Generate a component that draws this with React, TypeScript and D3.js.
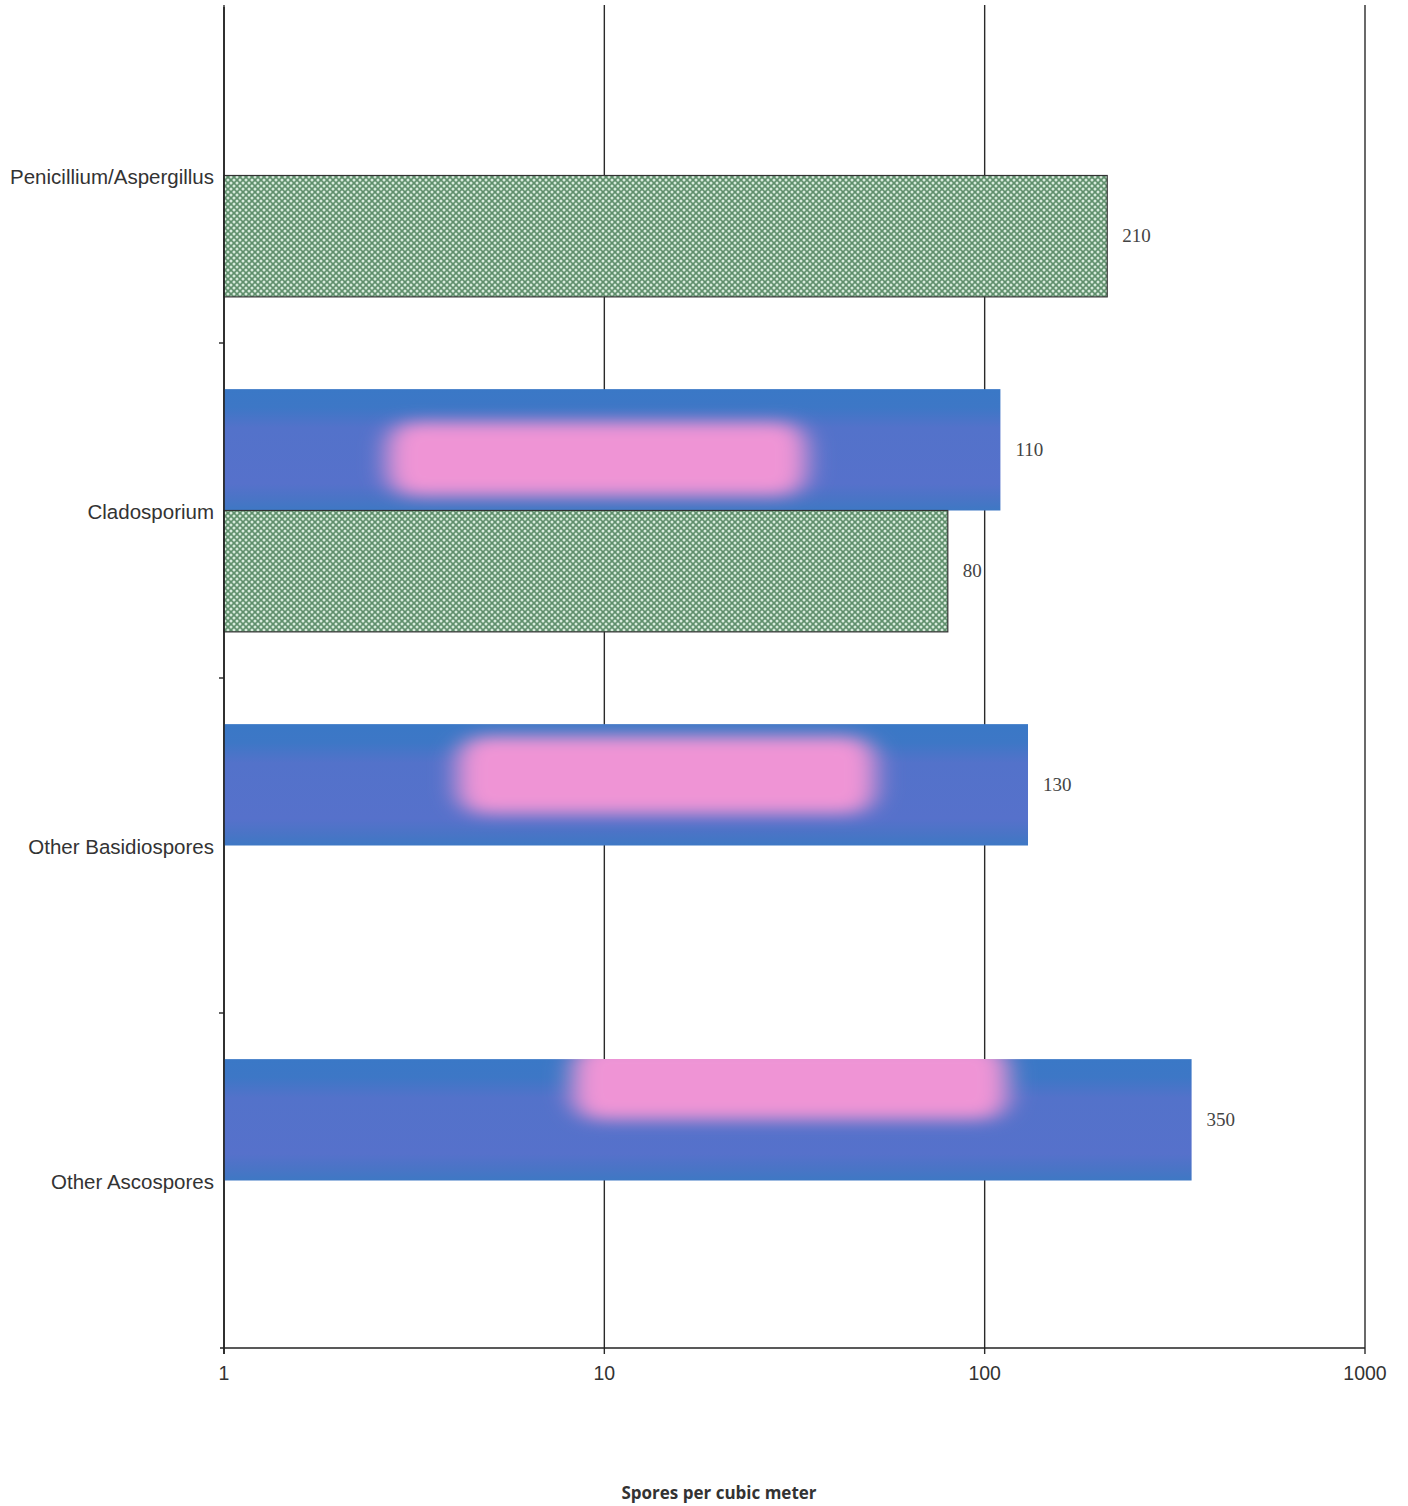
import React from 'react';
import * as d3 from 'd3';

const categories = ['Penicillium/Aspergillus', 'Cladosporium', 'Other Basidiospores', 'Other Ascospores'];
// two series, no legend in the source: blue bars sit above, green below
const seriesKeys = ['blue', 'green'];
const blueValues: (number | null)[] = [null, 110, 130, 350];
const greenValues: (number | null)[] = [210, 80, null, null];
const xTicks = [1, 10, 100, 1000];
const axisTitle = 'Spores per cubic meter';

// where the pink glow sits inside each blue bar, as fractions of the bar box
const glow = [
  null,
  { x0: 0.21, x1: 0.75, y0: 0.27, y1: 0.88 },
  { x0: 0.29, x1: 0.81, y0: 0.1, y1: 0.74 },
  { x0: 0.36, x1: 0.81, y0: -0.12, y1: 0.5 },
];

const W = 1408;
const H = 1506;
const left = 224;
const right = 1365;
const top = 8;
const bottom = 1348;

const App: React.FC = () => {
  const x = d3.scaleLog().domain([1, 1000]).range([left, right]);
  const y = d3.scaleBand<string>().domain(categories).range([top, bottom]);
  const sub = d3.scaleBand<string>()
    .domain(seriesKeys)
    .range([0, y.bandwidth()])
    .paddingInner(0)
    .paddingOuter(0.38);

  const bars: { key: string; i: number; v: number }[] = [];
  categories.forEach((c, i) => {
    if (blueValues[i] != null) bars.push({ key: 'blue', i, v: blueValues[i] as number });
    if (greenValues[i] != null) bars.push({ key: 'green', i, v: greenValues[i] as number });
  });

  const boundaries = d3.range(1, categories.length).map(i => y(categories[i]) as number);

  return (
    <div style={{ position: 'absolute', left: 0, top: 0 }}>
      <svg width={W} height={H} style={{ display: 'block', background: '#fff' }}>
        <defs>
          <pattern id="dots" width="6" height="6" patternUnits="userSpaceOnUse">
            <rect width="6" height="6" fill="#5f8f6c" />
            <circle cx="0" cy="0" r="1.5" fill="#d6eadb" />
            <circle cx="6" cy="0" r="1.5" fill="#d6eadb" />
            <circle cx="0" cy="6" r="1.5" fill="#d6eadb" />
            <circle cx="6" cy="6" r="1.5" fill="#d6eadb" />
            <circle cx="3" cy="3" r="1.5" fill="#d6eadb" />
          </pattern>
          <linearGradient id="blueFill" x1="0" y1="0" x2="0" y2="1">
            <stop offset="0" stopColor="#3a78c6" />
            <stop offset="0.15" stopColor="#3d77c6" />
            <stop offset="0.32" stopColor="#5372ca" />
            <stop offset="0.78" stopColor="#5671cb" />
            <stop offset="0.9" stopColor="#4a74c6" />
            <stop offset="1" stopColor="#3e78c4" />
          </linearGradient>
          <filter id="soft" x="-30%" y="-80%" width="160%" height="260%">
            <feGaussianBlur stdDeviation="13 8" />
          </filter>
          {bars.filter(b => b.key === 'blue').map(b => {
            const y0 = (y(categories[b.i]) as number) + (sub(b.key) as number);
            return (
              <clipPath id={`clip${b.i}`} key={b.i}>
                <rect x={left} y={y0} width={x(b.v) - left} height={sub.bandwidth()} />
              </clipPath>
            );
          })}
        </defs>

        {/* vertical gridlines at each decade */}
        {xTicks.map(t => (
          <line key={t} x1={x(t)} x2={x(t)} y1={5} y2={bottom + 6} stroke="#2a2a2a" strokeWidth={1.4} />
        ))}

        {bars.map(b => {
          const y0 = (y(categories[b.i]) as number) + (sub(b.key) as number);
          const w = x(b.v) - left;
          const h = sub.bandwidth();
          if (b.key === 'green') {
            return (
              <rect key={`g${b.i}`} x={left} y={y0} width={w} height={h}
                fill="url(#dots)" stroke="#333" strokeWidth={1.2} />
            );
          }
          const gl = glow[b.i];
          return (
            <g key={`b${b.i}`}>
              <rect x={left} y={y0} width={w} height={h} fill="url(#blueFill)" />
              {gl && (
                <g clipPath={`url(#clip${b.i})`}>
                  <rect x={left + gl.x0 * w} y={y0 + gl.y0 * h}
                    width={(gl.x1 - gl.x0) * w} height={(gl.y1 - gl.y0) * h}
                    rx={26} fill="#ef94d5" filter="url(#soft)" />
                </g>
              )}
            </g>
          );
        })}

        {/* value labels */}
        {bars.map(b => {
          const y0 = (y(categories[b.i]) as number) + (sub(b.key) as number);
          return (
            <text key={`t${b.key}${b.i}`} x={x(b.v) + 15} y={y0 + sub.bandwidth() / 2 + 6}
              fontFamily="'Liberation Serif', serif" fontSize={19} fill="#444">
              {b.v}
            </text>
          );
        })}

        {/* axes */}
        <line x1={left} x2={left} y1={7} y2={bottom + 6} stroke="#222" strokeWidth={1.6} />
        <line x1={left - 4} x2={right} y1={bottom} y2={bottom} stroke="#222" strokeWidth={1.6} />
        {boundaries.map((b, i) => (
          <line key={i} x1={left - 5} x2={left} y1={b} y2={b} stroke="#222" strokeWidth={1.4} />
        ))}

        {categories.map(c => (
          <text key={c} x={214} y={(y(c) as number) + y.bandwidth() / 2 + 8} textAnchor="end"
            fontFamily="'Liberation Sans', Arial, sans-serif" fontSize={20.5} fill="#333">
            {c}
          </text>
        ))}

        {xTicks.map(t => (
          <text key={`l${t}`} x={x(t)} y={bottom + 32} textAnchor="middle"
            fontFamily="'Liberation Sans', Arial, sans-serif" fontSize={19.5} fill="#333">
            {t}
          </text>
        ))}

        <text x={719} y={1499} textAnchor="middle" fontFamily="'Open Sans', sans-serif"
          fontWeight="bold" fontSize={17} fill="#333">
          {axisTitle}
        </text>
      </svg>
    </div>
  );
};

export default App;
